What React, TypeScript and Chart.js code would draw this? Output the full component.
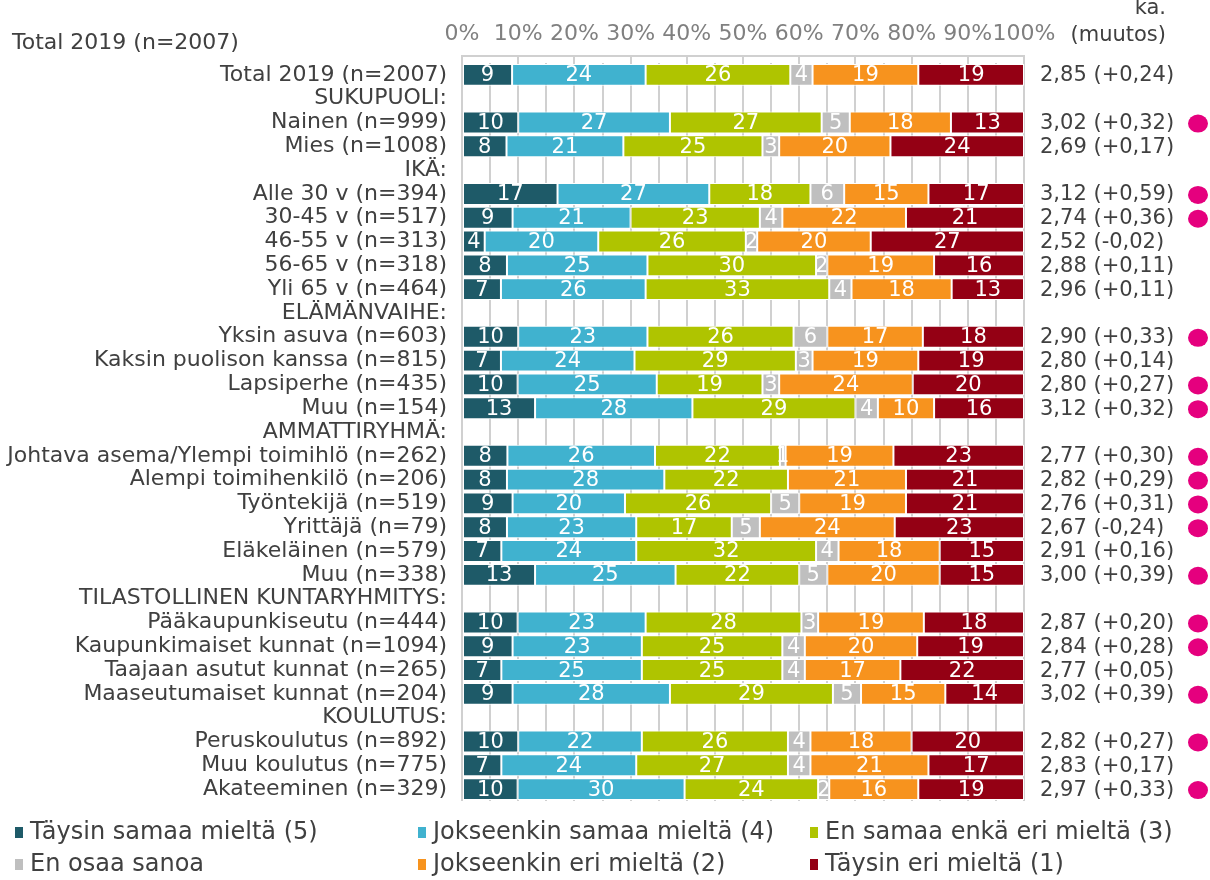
import React, { useEffect, useRef } from "react";
import { Chart, registerables } from "chart.js";

Chart.register(...registerables);

const CATEGORIES: string[] = [
  "Total 2019 (n=2007)",
  "SUKUPUOLI:",
  "Nainen (n=999)",
  "Mies (n=1008)",
  "IKÄ:",
  "Alle 30 v (n=394)",
  "30-45 v (n=517)",
  "46-55 v (n=313)",
  "56-65 v (n=318)",
  "Yli 65 v (n=464)",
  "ELÄMÄNVAIHE:",
  "Yksin asuva (n=603)",
  "Kaksin puolison kanssa (n=815)",
  "Lapsiperhe (n=435)",
  "Muu (n=154)",
  "AMMATTIRYHMÄ:",
  "Johtava asema/Ylempi toimihlö (n=262)",
  "Alempi toimihenkilö (n=206)",
  "Työntekijä (n=519)",
  "Yrittäjä (n=79)",
  "Eläkeläinen (n=579)",
  "Muu (n=338)",
  "TILASTOLLINEN KUNTARYHMITYS:",
  "Pääkaupunkiseutu (n=444)",
  "Kaupunkimaiset kunnat (n=1094)",
  "Taajaan asutut kunnat (n=265)",
  "Maaseutumaiset kunnat (n=204)",
  "KOULUTUS:",
  "Peruskoulutus (n=892)",
  "Muu koulutus (n=775)",
  "Akateeminen (n=329)",
];

const N = null;
const TAYSIN_SAMAA: (number | null)[] = [9, N, 10, 8, N, 17, 9, 4, 8, 7, N, 10, 7, 10, 13, N, 8, 8, 9, 8, 7, 13, N, 10, 9, 7, 9, N, 10, 7, 10];
const JOKSEENKIN_SAMAA: (number | null)[] = [24, N, 27, 21, N, 27, 21, 20, 25, 26, N, 23, 24, 25, 28, N, 26, 28, 20, 23, 24, 25, N, 23, 23, 25, 28, N, 22, 24, 30];
const EI_SAMAA_EI_ERI: (number | null)[] = [26, N, 27, 25, N, 18, 23, 26, 30, 33, N, 26, 29, 19, 29, N, 22, 22, 26, 17, 32, 22, N, 28, 25, 25, 29, N, 26, 27, 24];
const EOS: (number | null)[] = [4, N, 5, 3, N, 6, 4, 2, 2, 4, N, 6, 3, 3, 4, N, 1, 0, 5, 5, 4, 5, N, 3, 4, 4, 5, N, 4, 4, 2];
const JOKSEENKIN_ERI: (number | null)[] = [19, N, 18, 20, N, 15, 22, 20, 19, 18, N, 17, 19, 24, 10, N, 19, 21, 19, 24, 18, 20, N, 19, 20, 17, 15, N, 18, 21, 16];
const TAYSIN_ERI: (number | null)[] = [19, N, 13, 24, N, 17, 21, 27, 16, 13, N, 18, 19, 20, 16, N, 23, 21, 21, 23, 15, 15, N, 18, 19, 22, 14, N, 20, 17, 19];

const MEANS: (number | null)[] = [2.85, N, 3.02, 2.69, N, 3.12, 2.74, 2.52, 2.88, 2.96, N, 2.90, 2.80, 2.80, 3.12, N, 2.77, 2.82, 2.76, 2.67, 2.91, 3.00, N, 2.87, 2.84, 2.77, 3.02, N, 2.82, 2.83, 2.97];
const CHANGES: (number | null)[] = [0.24, N, 0.32, 0.17, N, 0.59, 0.36, -0.02, 0.11, 0.11, N, 0.33, 0.14, 0.27, 0.32, N, 0.30, 0.29, 0.31, -0.24, 0.16, 0.39, N, 0.20, 0.28, 0.05, 0.39, N, 0.27, 0.17, 0.33];
const SIGNIFICANT: boolean[] = [false, false, true, false, false, true, true, false, false, false, false, true, false, true, true, false, true, true, true, true, false, true, false, true, true, false, true, false, true, false, true];

const SERIES_NAMES: string[] = [
  "Täysin samaa mieltä (5)",
  "Jokseenkin samaa mieltä (4)",
  "En samaa enkä eri mieltä (3)",
  "En osaa sanoa",
  "Jokseenkin eri mieltä (2)",
  "Täysin eri mieltä (1)",
];
const SERIES_COLORS: string[] = ["#1e5a68", "#40b2cf", "#afc400", "#bfbfbf", "#f7931e", "#940014"];
const X_TICKS: number[] = [0, 10, 20, 30, 40, 50, 60, 70, 80, 90, 100];

const SERIES = [TAYSIN_SAMAA, JOKSEENKIN_SAMAA, EI_SAMAA_EI_ERI, EOS, JOKSEENKIN_ERI, TAYSIN_ERI];

const FONT = '"DejaVu Sans", Verdana, sans-serif';
const GRID = "#d0d0d0";

function fmt(v: number): string {
  return v.toFixed(2).replace(".", ",");
}
function fmtChange(v: number): string {
  return (v < 0 ? "-" : "+") + fmt(Math.abs(v));
}

const overlay = {
  id: "overlay",
  afterDatasetsDraw(chart: any) {
    const ctx = chart.ctx;
    ctx.save();
    ctx.font = `21px ${FONT}`;
    ctx.fillStyle = "#ffffff";
    ctx.textAlign = "center";
    ctx.textBaseline = "middle";
    chart.data.datasets.forEach((_ds: any, di: number) => {
      const meta = chart.getDatasetMeta(di);
      meta.data.forEach((el: any, i: number) => {
        const raw = SERIES[di][i];
        if (raw == null || raw === 0) return;
        const p = el.getProps(["x", "y", "base"], true);
        ctx.fillText(String(raw), (p.x + p.base) / 2, p.y + 1);
      });
    });
    ctx.restore();
  },
  afterDraw(chart: any) {
    const ctx = chart.ctx;
    const ys = chart.scales.y;
    const xs = chart.scales.x;
    const area = chart.chartArea;
    ctx.save();
    // top axis line
    ctx.strokeStyle = GRID;
    ctx.lineWidth = 2;
    ctx.beginPath();
    ctx.moveTo(xs.getPixelForValue(0) - 1, area.top - 7);
    ctx.lineTo(xs.getPixelForValue(100) + 1, area.top - 7);
    ctx.stroke();

    // headers
    ctx.fillStyle = "#404040";
    ctx.font = `22px ${FONT}`;
    ctx.textAlign = "left";
    ctx.textBaseline = "alphabetic";
    ctx.fillText("Total 2019 (n=2007)", 12, 49);
    ctx.font = `21px ${FONT}`;
    ctx.textAlign = "right";
    ctx.fillText("ka.", 1166, 14);
    ctx.fillText("(muutos)", 1166, 41);

    // means and change
    ctx.textAlign = "left";
    ctx.textBaseline = "middle";
    for (let i = 0; i < CATEGORIES.length; i++) {
      const m = MEANS[i];
      const c = CHANGES[i];
      const y = ys.getPixelForValue(i);
      if (m != null && c != null) {
        ctx.fillStyle = "#404040";
        ctx.fillText(`${fmt(m)} (${fmtChange(c)})`, 1040, y + 1);
      }
      if (SIGNIFICANT[i]) {
        ctx.fillStyle = "#e5007e";
        ctx.beginPath();
        ctx.ellipse(1198, y + 1, 10, 9, 0, 0, Math.PI * 2);
        ctx.fill();
      }
    }

    // legend
    const colX = [15, 418, 810];
    const rowY = [833, 865];
    ctx.font = `24px ${FONT}`;
    ctx.textBaseline = "middle";
    SERIES_NAMES.forEach((name, k) => {
      const cx = colX[k % 3];
      const cy = rowY[Math.floor(k / 3)];
      ctx.fillStyle = SERIES_COLORS[k];
      ctx.fillRect(cx, cy - 6, 8, 11);
      ctx.fillStyle = "#404040";
      ctx.fillText(name, cx + 15, cy);
    });
    ctx.restore();
  },
};

export default function App() {
  const ref = useRef<HTMLCanvasElement | null>(null);
  useEffect(() => {
    if (!ref.current) return;
    Chart.defaults.font.family = FONT;
    const datasets = SERIES.map((vals, k) => ({
      label: SERIES_NAMES[k],
      data: vals.map((v, i) => {
        if (v == null) return null;
        const sum = SERIES.reduce((s, arr) => s + (arr[i] ?? 0), 0);
        return (v * 100) / sum;
      }),
      backgroundColor: SERIES_COLORS[k],
      borderColor: "#ffffff",
      borderWidth: 1,
      borderSkipped: false,
      barPercentage: 0.92,
      categoryPercentage: 1,
    }));
    const chart = new Chart(ref.current, {
      type: "bar",
      data: { labels: CATEGORIES, datasets },
      options: {
        indexAxis: "y",
        responsive: false,
        animation: false,
        layout: { padding: { left: 0, right: 186, top: 0, bottom: 79 } },
        plugins: { legend: { display: false }, tooltip: { enabled: false } },
        scales: {
          x: {
            position: "top",
            stacked: true,
            min: 0,
            max: 100,
            afterFit: (s: any) => {
              s.height = 63;
            },
            afterBuildTicks: (s: any) => {
              const t: any[] = [];
              for (let v = 0; v <= 100; v += 5) t.push({ value: v });
              s.ticks = t;
            },
            ticks: {
              autoSkip: false,
              maxRotation: 0,
              padding: 9,
              color: "#808080",
              font: { size: 22, family: FONT },
              callback: (v: any) => (X_TICKS.includes(Number(v)) ? `${v}%` : ""),
            },
            grid: {
              color: GRID,
              lineWidth: 2,
              tickLength: 7,
              tickColor: (c: any) => (c.tick && c.tick.value % 10 === 0 ? GRID : "rgba(0,0,0,0)"),
            },
            border: { display: false },
          },
          y: {
            stacked: true,
            afterFit: (s: any) => {
              s.width = 462;
            },
            ticks: {
              autoSkip: false,
              padding: 15,
              color: "#404040",
              font: { size: 22, family: FONT },
            },
            grid: { display: false, drawTicks: false },
            border: { display: false },
          },
        },
      },
      plugins: [overlay],
    });
    return () => chart.destroy();
  }, []);
  return (
    <div style={{ position: "fixed", left: 0, top: 0, width: 1210, height: 880, background: "#fff" }}>
      <canvas ref={ref} width={1210} height={880} />
    </div>
  );
}
